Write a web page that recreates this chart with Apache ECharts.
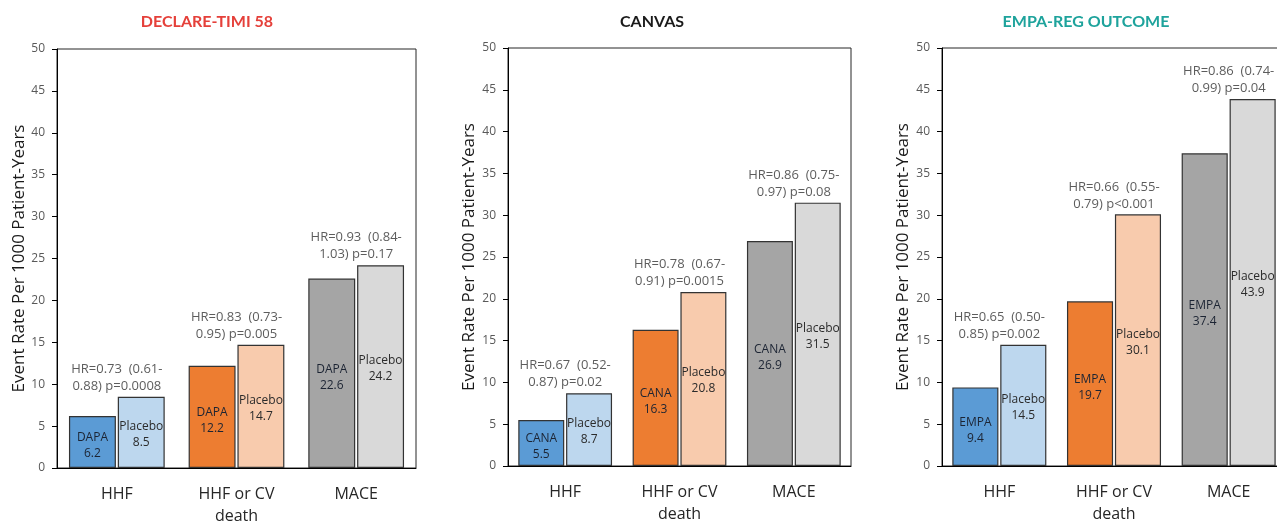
<!DOCTYPE html>
<html>
<head>
<meta charset="utf-8">
<script src="https://cdn.jsdelivr.net/npm/echarts@6/dist/echarts.min.js"></script>
<style>
html,body{margin:0;padding:0;background:#fff;}
#chart{width:1277px;height:521px;}
</style>
</head>
<body>
<div id="chart"></div>
<script>
// ---- data ----
const categories = ["HHF", "HHF or CV\ndeath", "MACE"];
const trialNames = ["DECLARE-TIMI 58", "CANVAS", "EMPA-REG OUTCOME"];
const drugNames = ["DAPA", "CANA", "EMPA"];

const declareDrug = [6.2, 12.2, 22.6];
const declarePlacebo = [8.5, 14.7, 24.2];
const canvasDrug = [5.5, 16.3, 26.9];
const canvasPlacebo = [8.7, 20.8, 31.5];
const empaDrug = [9.4, 19.7, 37.4];
const empaPlacebo = [14.5, 30.1, 43.9];

const declareHR = ["HR=0.73  (0.61-\n0.88) p=0.0008", "HR=0.83  (0.73-\n0.95) p=0.005", "HR=0.93  (0.84-\n1.03) p=0.17"];
const canvasHR = ["HR=0.67  (0.52-\n0.87) p=0.02", "HR=0.78  (0.67-\n0.91) p=0.0015", "HR=0.86  (0.75-\n0.97) p=0.08"];
const empaHR = ["HR=0.65  (0.50-\n0.85) p=0.002", "HR=0.66  (0.55-\n0.79) p<0.001", "HR=0.86  (0.74-\n0.99) p=0.04"];

const yTicks = {min: 0, max: 50, interval: 5};

// ---- styles ----
const drugColors = ["#5b9bd5", "#ed7d31", "#a5a5a5"];
const placeboColors = ["#bdd7ee", "#f8cbad", "#d9d9d9"];
const titleColors = ["#e5403a", "#1a1a1a", "#1ea39c"];
const FONT = "'Open Sans', sans-serif";
const TITLE_FONT = "Lato, 'Open Sans', sans-serif";

const panels = [
  {drug: declareDrug, placebo: declarePlacebo, hr: declareHR,
   grid: {left: 57, right: 861, top: 49, bottom: 53}, titleX: 207, nameGap: 20, catGap: '20%'},
  {drug: canvasDrug, placebo: canvasPlacebo, hr: canvasHR,
   grid: {left: 508, right: 426, top: 48, bottom: 55}, titleX: 652, nameGap: 30, catGap: '18%'},
  {drug: empaDrug, placebo: empaPlacebo, hr: empaHR,
   grid: {left: 942, right: -9, top: 48, bottom: 55}, titleX: 1086, nameGap: 30, catGap: '18%'}
];

const option = {
  backgroundColor: '#fff',
  animation: false,
  title: [], grid: [], xAxis: [], yAxis: [], series: []
};

panels.forEach((p, k) => {
  option.title.push({
    text: trialNames[k], left: p.titleX, top: 14, textAlign: 'center', padding: 0,
    textStyle: {fontFamily: TITLE_FONT, fontWeight: 'bold', fontSize: 16, color: titleColors[k]}
  });
  option.grid.push(Object.assign({show: true, borderColor: '#262626', borderWidth: 1, backgroundColor: '#fff',
    containLabel: false, outerBoundsMode: 'none'}, p.grid));
  option.xAxis.push({
    type: 'category', gridIndex: k, data: categories,
    axisLine: {lineStyle: {color: '#000', width: 1}},
    axisTick: {show: false},
    axisLabel: {fontFamily: FONT, fontSize: 16, color: '#262626', lineHeight: 22, margin: 15, interval: 0}
  });
  option.yAxis.push({
    type: 'value', gridIndex: k, min: yTicks.min, max: yTicks.max, interval: yTicks.interval,
    name: 'Event Rate Per 1000 Patient-Years', nameLocation: 'middle', nameGap: p.nameGap,
    nameTextStyle: {fontFamily: FONT, fontSize: 17, color: '#1a1a1a'},
    axisLine: {show: true, lineStyle: {color: '#000', width: 1}},
    axisTick: {show: true, length: 5, lineStyle: {color: '#000'}},
    splitLine: {show: false},
    axisLabel: {fontFamily: FONT, fontSize: 12, color: '#595959', margin: 12}
  });
  option.series.push({
    type: 'bar', xAxisIndex: k, yAxisIndex: k, barGap: '4%', barCategoryGap: p.catGap,
    data: p.drug.map((v, i) => ({value: v, itemStyle: {color: drugColors[i]}})),
    itemStyle: {borderColor: '#333', borderWidth: 1.2},
    label: {show: true, position: 'inside', offset: [0, 4], fontFamily: FONT, fontSize: 12, lineHeight: 16,
      color: '#1c2433', formatter: (d) => drugNames[k] + '\n' + d.value}
  });
  option.series.push({
    type: 'bar', xAxisIndex: k, yAxisIndex: k, barGap: '4%', barCategoryGap: p.catGap,
    data: p.placebo.map((v, i) => ({value: v, itemStyle: {color: placeboColors[i]}})),
    itemStyle: {borderColor: '#333', borderWidth: 1.2},
    label: {show: true, position: 'inside', offset: [0, 2], fontFamily: FONT, fontSize: 12, lineHeight: 16,
      color: '#2b2b2b', formatter: (d) => 'Placebo\n' + d.value}
  });
  option.series.push({
    type: 'scatter', xAxisIndex: k, yAxisIndex: k, symbolSize: 0, silent: true,
    data: p.placebo.map((v, i) => [i, v]),
    label: {show: true, position: 'top', distance: 2, fontFamily: FONT, fontSize: 13, lineHeight: 17,
      color: '#333', align: 'center', formatter: (d) => p.hr[d.dataIndex]}
  });
});

const chart = echarts.init(document.getElementById('chart'), null, {renderer: 'canvas'});
chart.setOption(option);
</script>
</body>
</html>
